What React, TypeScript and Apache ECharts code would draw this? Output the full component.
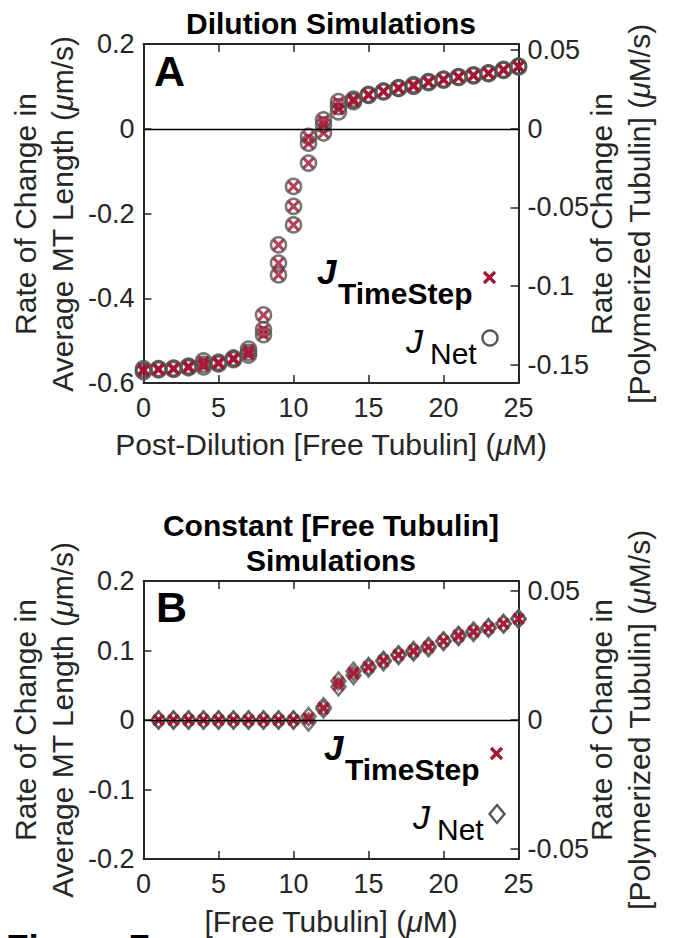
import React, { useEffect, useRef } from 'react';
import * as echarts from 'echarts';

// ---------- data ----------
const dilutionConc = [0, 1, 2, 3, 4, 5, 6, 7, 8, 9, 10, 11, 12, 13, 14, 15, 16, 17, 18, 19, 20, 21, 22, 23, 24, 25];
const dilutionNet = [
  [-0.566, -0.570, -0.573], [-0.566, -0.567, -0.569], [-0.565, -0.566, -0.568], [-0.560, -0.562, -0.564],
  [-0.548, -0.556, -0.562], [-0.551, -0.553, -0.555], [-0.541, -0.543, -0.545], [-0.520, -0.528, -0.534],
  [-0.439, -0.474, -0.486], [-0.274, -0.317, -0.345], [-0.136, -0.183, -0.227], [-0.018, -0.034, -0.081],
  [0.021, 0.009, -0.010], [0.064, 0.052, 0.040], [0.070, 0.067, 0.064], [0.081, 0.080, 0.079],
  [0.089, 0.088, 0.087], [0.097, 0.096, 0.095], [0.104, 0.102, 0.100], [0.111, 0.110, 0.109],
  [0.117, 0.116, 0.115], [0.123, 0.122, 0.121], [0.127, 0.126, 0.125], [0.132, 0.131, 0.130],
  [0.140, 0.139, 0.138], [0.148, 0.147, 0.146],
];
const dilutionTimeStep = [
  [-0.567, -0.570, -0.572], [-0.566, -0.567, -0.569], [-0.565, -0.566, -0.568], [-0.560, -0.562, -0.564],
  [-0.549, -0.556, -0.561], [-0.551, -0.553, -0.555], [-0.541, -0.543, -0.545], [-0.521, -0.528, -0.533],
  [-0.440, -0.474, -0.486], [-0.274, -0.317, -0.345], [-0.136, -0.183, -0.227], [-0.019, -0.035, -0.081],
  [0.020, 0.009, -0.010], [0.063, 0.050, 0.045], [0.070, 0.067, 0.064], [0.081, 0.080, 0.079],
  [0.089, 0.088, 0.087], [0.097, 0.096, 0.095], [0.104, 0.102, 0.100], [0.111, 0.110, 0.109],
  [0.117, 0.116, 0.115], [0.123, 0.122, 0.121], [0.127, 0.126, 0.125], [0.132, 0.131, 0.130],
  [0.140, 0.139, 0.138], [0.148, 0.147, 0.146],
];

const constantConc = [1, 2, 3, 4, 5, 6, 7, 8, 9, 10, 11, 12, 13, 14, 15, 16, 17, 18, 19, 20, 21, 22, 23, 24, 25];
const constantNet = [
  [0, 0], [0, 0], [0, 0], [0, 0], [0, 0], [0, 0], [0, 0], [0, 0], [0, 0], [0, 0],
  [0.005, -0.003], [0.019, 0.016], [0.056, 0.048], [0.070, 0.064], [0.077, 0.075],
  [0.086, 0.084], [0.094, 0.093], [0.100, 0.098], [0.106, 0.104], [0.114, 0.113],
  [0.122, 0.120], [0.128, 0.126], [0.133, 0.132], [0.139, 0.138], [0.146, 0.145],
];
const constantTimeStep = [
  [0, 0], [0, 0], [0, 0], [0, 0], [0, 0], [0, 0], [0, 0], [0, 0], [0, 0], [0, 0],
  [0.003, 0.001], [0.018, 0.016], [0.055, 0.050], [0.069, 0.066], [0.077, 0.075],
  [0.086, 0.084], [0.094, 0.093], [0.100, 0.098], [0.106, 0.104], [0.114, 0.113],
  [0.122, 0.120], [0.128, 0.126], [0.133, 0.132], [0.139, 0.138], [0.146, 0.145],
];

const xTickValues = [0, 5, 10, 15, 20, 25];
const rightTicksA = [-0.15, -0.1, -0.05, 0, 0.05];
const rightTicksB = [-0.05, 0, 0.05];
const lengthToPolymerRatio = 3.71; // µm/s of MT length per µM/s of polymerized tubulin

// ---------- styling ----------
const FONT = '"Liberation Sans", Arial, Helvetica, sans-serif';
const AX = '#262626';
const RED = '#A2142F';
const GRAY = '#555555';
const X_PATH = 'path://M0,0L10,10M10,0L0,10';

function pairs(conc: number[], vals: number[][]) {
  const out: number[][] = [];
  conc.forEach((c, i) => vals[i].forEach((v) => out.push([c, v])));
  return out;
}

function xAxes(grid: number) {
  const base = {
    type: 'value',
    gridIndex: grid,
    min: xTickValues[0],
    max: xTickValues[xTickValues.length - 1],
    interval: 5,
    splitLine: { show: false },
    axisLine: { show: true, onZero: false, lineStyle: { color: AX, width: 2 } },
    axisTick: { show: true, inside: true, length: 8, lineStyle: { color: AX, width: 1.5 } },
  };
  return [
    { ...base, position: 'bottom', axisLabel: { show: true, margin: 11, color: AX, fontSize: 27, fontFamily: FONT } },
    { ...base, position: 'top', axisLabel: { show: false } },
  ];
}

function yAxes(grid: number, min: number, max: number, interval: number, rightTicks: number[]) {
  const common = {
    type: 'value',
    gridIndex: grid,
    splitLine: { show: false },
    axisLine: { show: true, onZero: false, lineStyle: { color: AX, width: 2 } },
  };
  return [
    {
      ...common,
      position: 'left',
      min,
      max,
      interval,
      axisTick: { show: true, inside: true, length: 8, lineStyle: { color: AX, width: 1.5 } },
      axisLabel: { show: true, margin: 9, color: AX, fontSize: 27, fontFamily: FONT },
    },
    {
      ...common,
      position: 'right',
      min: min / lengthToPolymerRatio,
      max: max / lengthToPolymerRatio,
      axisTick: { show: true, inside: true, length: 8, customValues: rightTicks, lineStyle: { color: AX, width: 1.5 } },
      axisLabel: { show: true, margin: 9, color: AX, fontSize: 27, fontFamily: FONT, customValues: rightTicks },
    },
  ];
}

function netSeries(xi: number, yi: number, data: number[][], symbol: string, size: any) {
  return {
    type: 'scatter',
    xAxisIndex: xi,
    yAxisIndex: yi,
    data,
    symbol,
    symbolSize: size,
    z: 2,
    itemStyle: { color: 'rgba(0,0,0,0)', borderColor: GRAY, borderWidth: 2.6 },
    markLine: {
      silent: true,
      symbol: ['none', 'none'],
      label: { show: false },
      lineStyle: { color: '#000', width: 1.3, type: 'solid' },
      data: [{ yAxis: 0 }],
    },
  };
}

function stepSeries(xi: number, yi: number, data: number[][]) {
  return {
    type: 'scatter',
    xAxisIndex: xi,
    yAxisIndex: yi,
    data,
    symbol: X_PATH,
    symbolSize: 10,
    z: 3,
    itemStyle: { color: 'rgba(0,0,0,0)', borderColor: RED, borderWidth: 3.2 },
  };
}

const txt = (x: number, y: number, text: string, fontSize: number, opts: any = {}) => ({
  type: 'text',
  x,
  y,
  rotation: opts.rotation || 0,
  style: {
    text,
    fontSize,
    fontFamily: FONT,
    fontWeight: opts.bold ? 'bold' : 'normal',
    fontStyle: opts.italic ? 'italic' : 'normal',
    fill: opts.color || '#000',
    align: opts.align || 'center',
    verticalAlign: 'middle',
    rich: opts.rich,
  },
});

const muRich = (size: number) => ({ mu: { fontStyle: 'italic', fontSize: size, fontFamily: FONT, fill: AX, color: AX } });

function legend(dx: number, dy: number, marker: 'circle' | 'diamond') {
  const items: any[] = [
    txt(317 + dx, 271 + dy, 'J', 35, { bold: true, italic: true, align: 'left' }),
    txt(338 + dx, 293 + dy, 'TimeStep', 30, { bold: true, align: 'left' }),
    { type: 'line', shape: { x1: 484 + dx, y1: 272 + dy, x2: 495 + dx, y2: 283 + dy }, style: { stroke: RED, lineWidth: 3.2 } },
    { type: 'line', shape: { x1: 495 + dx, y1: 272 + dy, x2: 484 + dx, y2: 283 + dy }, style: { stroke: RED, lineWidth: 3.2 } },
    txt(406 + dx, 341 + dy, 'J', 34, { italic: true, align: 'left' }),
    txt(430 + dx, 353 + dy, 'Net', 30, { align: 'left' }),
  ];
  if (marker === 'circle') {
    items.push({ type: 'circle', shape: { cx: 490 + dx, cy: 338 + dy, r: 7.5 }, style: { fill: 'none', stroke: GRAY, lineWidth: 2.4 } });
  } else {
    const cx = 490 + dx, cy = 338 + dy;
    items.push({
      type: 'polygon',
      shape: { points: [[cx, cy - 9], [cx + 7.5, cy], [cx, cy + 9], [cx - 7.5, cy]] },
      style: { fill: 'none', stroke: GRAY, lineWidth: 2.4 },
    });
  }
  return items;
}

export default function App() {
  const ref = useRef<HTMLDivElement>(null);
  useEffect(() => {
    if (!ref.current) return;
    const chart = echarts.init(ref.current, undefined, { renderer: 'svg' });
    const option: any = {
      animation: false,
      backgroundColor: '#fff',
      grid: [
        { left: 143.5, top: 44, width: 375, height: 339 },
        { left: 143.5, top: 581, width: 375, height: 278 },
      ],
      xAxis: [...xAxes(0), ...xAxes(1)],
      yAxis: [...yAxes(0, -0.6, 0.2, 0.2, rightTicksA), ...yAxes(1, -0.2, 0.2, 0.1, rightTicksB)],
      series: [
        netSeries(0, 0, pairs(dilutionConc, dilutionNet), 'circle', 15),
        stepSeries(0, 0, pairs(dilutionConc, dilutionTimeStep)),
        netSeries(2, 2, pairs(constantConc, constantNet), 'diamond', [14, 17]),
        stepSeries(2, 2, pairs(constantConc, constantTimeStep)),
      ],
      graphic: [
        txt(331, 23, 'Dilution Simulations', 30, { bold: true }),
        txt(331, 525, 'Constant [Free Tubulin]', 30, { bold: true }),
        txt(331, 560, 'Simulations', 30, { bold: true }),
        txt(154, 71, 'A', 43, { bold: true, align: 'left' }),
        txt(156, 607, 'B', 43, { bold: true, align: 'left' }),
        // left axis names
        txt(25, 214, 'Rate of Change in', 30, { rotation: Math.PI / 2, color: AX }),
        txt(62, 214, 'Average MT Length ({mu|μ}m/s)', 30, { rotation: Math.PI / 2, color: AX, rich: muRich(30) }),
        txt(25, 720, 'Rate of Change in', 30, { rotation: Math.PI / 2, color: AX }),
        txt(62, 720, 'Average MT Length ({mu|μ}m/s)', 30, { rotation: Math.PI / 2, color: AX, rich: muRich(30) }),
        // right axis names
        txt(601, 214, 'Rate of Change in', 30, { rotation: Math.PI / 2, color: AX }),
        txt(639, 214, '[Polymerized Tubulin] ({mu|μ}M/s)', 30, { rotation: Math.PI / 2, color: AX, rich: muRich(30) }),
        txt(601, 720, 'Rate of Change in', 30, { rotation: Math.PI / 2, color: AX }),
        txt(639, 720, '[Polymerized Tubulin] ({mu|μ}M/s)', 30, { rotation: Math.PI / 2, color: AX, rich: muRich(30) }),
        // x axis names
        txt(331, 444, 'Post-Dilution [Free Tubulin] ({mu|μ}M)', 30, { color: AX, rich: muRich(30) }),
        txt(331, 921, '[Free Tubulin] ({mu|μ}M)', 30, { color: AX, rich: muRich(30) }),
        // legends
        ...legend(0, 0, 'circle'),
        ...legend(7, 476, 'diamond'),
        // figure caption (cut off at the page edge, as in the source)
        txt(6, 948, 'Figure 7', 37, { bold: true, align: 'left' }),
      ],
    };
    chart.setOption(option);
    return () => chart.dispose();
  }, []);
  return <div ref={ref} style={{ position: 'absolute', left: 0, top: 0, width: 674, height: 938 }} />;
}
